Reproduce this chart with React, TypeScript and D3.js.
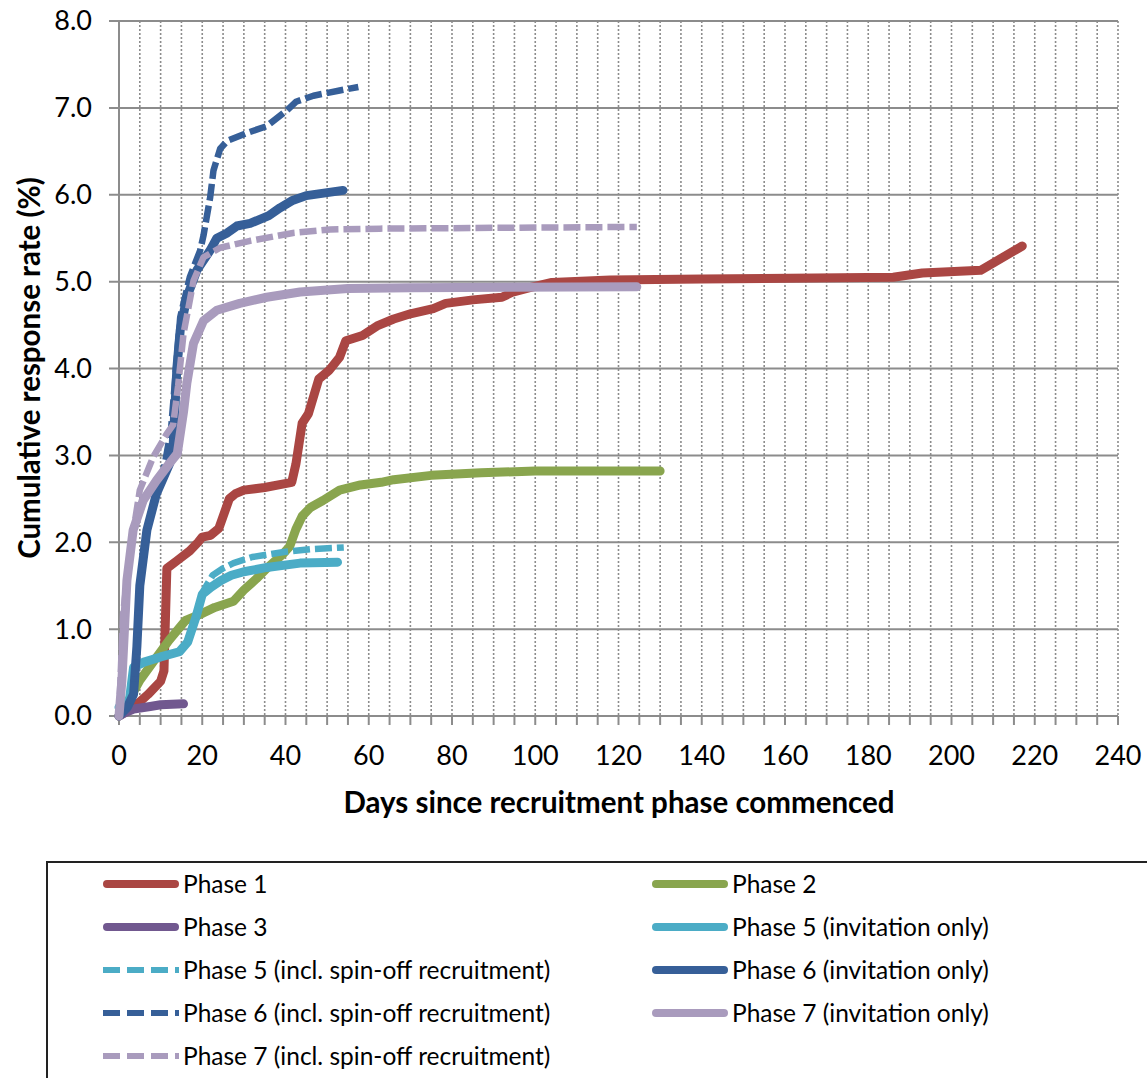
import React from "react";
import * as d3 from "d3";

type Pt = [number, number];

const xTicks = d3.range(0, 241, 20);
const xGrid = d3.range(5, 241, 5);
const yTicks = d3.range(0, 8.01, 1);

const phase1: Pt[] = [[0,0],[1,0.03],[4,0.12],[7,0.25],[10,0.4],[10.8,0.52],[11.5,1.70],[14,1.79],[17,1.90],[19,2.0],[20,2.06],[22,2.08],[24,2.16],[26.5,2.5],[28,2.56],[30,2.60],[35,2.63],[41.5,2.69],[42.5,2.9],[44,3.37],[45.5,3.48],[48,3.88],[50.5,3.98],[53,4.13],[54.5,4.32],[58.5,4.38],[62,4.49],[66,4.57],[70,4.63],[75.5,4.69],[78.5,4.75],[85,4.79],[92,4.82],[94.6,4.88],[98.7,4.93],[104,4.99],[118,5.02],[140,5.03],[186,5.05],[193,5.10],[207,5.13],[217,5.41]];
const phase2: Pt[] = [[0,0],[2,0.15],[5,0.41],[8,0.61],[12,0.87],[16,1.10],[19.5,1.17],[23,1.25],[27.5,1.32],[30,1.45],[33,1.58],[35.5,1.70],[39.5,1.87],[41,1.95],[42.5,2.15],[44,2.30],[46,2.40],[49,2.48],[53,2.60],[58,2.66],[63,2.69],[66,2.72],[75,2.77],[87,2.80],[100,2.82],[130,2.82]];
const phase3: Pt[] = [[0,0],[1.5,0.04],[3.5,0.08],[7.5,0.11],[10,0.13],[15.5,0.14]];
const phase5Inv: Pt[] = [[0,0.1],[2.5,0.18],[3.5,0.56],[6,0.62],[10,0.68],[14.5,0.74],[16.5,0.85],[18.5,1.14],[20,1.40],[22,1.48],[24.5,1.56],[27,1.62],[30,1.66],[35.5,1.71],[43.5,1.76],[52.5,1.77]];
const phase5Incl: Pt[] = [[0,0.1],[2.5,0.18],[3.5,0.56],[6,0.62],[10,0.68],[14.5,0.74],[16.5,0.85],[18.5,1.16],[20,1.42],[22.5,1.62],[25,1.70],[27.5,1.76],[32,1.83],[36,1.86],[40,1.89],[46,1.92],[54,1.94]];
const phase6Inv: Pt[] = [[0,0],[2,0.1],[3.5,0.25],[4.3,0.8],[5,1.5],[6.7,2.14],[9,2.56],[12.2,2.91],[13,3.1],[13.9,4.0],[14.7,4.44],[16.3,4.82],[18.7,5.13],[21.9,5.36],[23.5,5.5],[26,5.56],[28.3,5.64],[31.5,5.67],[34,5.72],[36,5.76],[38.7,5.85],[41.5,5.93],[45,5.99],[53.8,6.05]];
const phase6Incl: Pt[] = [[0,0],[2,0.1],[3.5,0.25],[4.3,0.8],[5,1.5],[6.7,2.14],[9,2.56],[11,2.9],[12.5,3.3],[14.7,4.59],[17,5.05],[19.5,5.36],[20.3,5.53],[21.9,5.97],[22.7,6.28],[24.3,6.53],[26,6.62],[30.7,6.71],[35.5,6.79],[40.3,6.97],[42.5,7.07],[46.7,7.14],[53,7.20],[57.5,7.24]];
const phase7Inv: Pt[] = [[0,0],[0.7,0.41],[1.9,1.56],[3.4,2.14],[5.8,2.48],[9,2.71],[12,2.9],[14,3.02],[15.5,3.5],[16.3,3.83],[17.9,4.29],[20.3,4.55],[23.5,4.67],[29,4.75],[35.5,4.82],[43.5,4.88],[55,4.92],[70,4.93],[124.4,4.94]];
const phase7Incl: Pt[] = [[0,0],[0.5,0.6],[1,1.18],[2.6,1.87],[5,2.6],[8.2,2.98],[11.5,3.25],[13,3.35],[14.2,3.8],[15.5,4.4],[17.9,5.01],[20.3,5.28],[24.3,5.39],[31.5,5.47],[41.8,5.56],[50.7,5.60],[62.7,5.61],[124.4,5.63]];

const seriesNames = [
  "Phase 1",
  "Phase 2",
  "Phase 3",
  "Phase 5 (invitation only)",
  "Phase 5 (incl. spin-off recruitment)",
  "Phase 6 (invitation only)",
  "Phase 6 (incl. spin-off recruitment)",
  "Phase 7 (invitation only)",
  "Phase 7 (incl. spin-off recruitment)",
];
const seriesData = [phase1, phase2, phase3, phase5Inv, phase5Incl, phase6Inv, phase6Incl, phase7Inv, phase7Incl];
const seriesColors = ["#AA4643", "#89A54E", "#71588F", "#4BACC6", "#4BACC6", "#365F98", "#365F98", "#A99BBD", "#A99BBD"];
const seriesDashed = [false, false, false, false, true, false, true, false, true];

export default function App() {
  const W = 1147, H = 1078;
  const x = d3.scaleLinear().domain([0, 240]).range([119, 1118]);
  const y = d3.scaleLinear().domain([0, 8]).range([716, 21]);
  const line = d3.line<Pt>().x(d => x(d[0])).y(d => y(d[1]));
  const font = "Lato, 'Open Sans', sans-serif";
  const grid = "#8c8c8c";

  const legendRows = seriesNames.map((n, i) => ({ n, i, col: i % 2, row: Math.floor(i / 2) }));

  return (
    <svg width={W} height={H} style={{ position: "absolute", left: 0, top: 0, display: "block", background: "#fff" }} fontFamily={font}>
      <rect x={0} y={0} width={W} height={H} fill="#fff" />
      {xGrid.map(t => (
        <line key={"vg" + t} x1={x(t)} x2={x(t)} y1={y(8)} y2={y(0)} stroke={grid} strokeWidth={1.6} strokeDasharray="2 2" />
      ))}
      {yTicks.map(t => (
        <line key={"hg" + t} x1={109} x2={x(240)} y1={y(t)} y2={y(t)} stroke={grid} strokeWidth={2} />
      ))}
      <line x1={x(0)} x2={x(0)} y1={y(8)} y2={y(0) + 9} stroke={grid} strokeWidth={2} />
      {xGrid.map(t => (
        <line key={"xt" + t} x1={x(t)} x2={x(t)} y1={y(0)} y2={y(0) + 9} stroke={grid} strokeWidth={2} />
      ))}
      {yTicks.map(t => (
        <text key={"yl" + t} x={92} y={y(t)} dy="0.35em" textAnchor="end" fontSize={27} fill="#000">{t.toFixed(1)}</text>
      ))}
      {xTicks.map(t => (
        <text key={"xl" + t} x={x(t)} y={765} textAnchor="middle" fontSize={27} fill="#000">{t}</text>
      ))}
      <text x={619} y={813} textAnchor="middle" fontSize={29.5} fontWeight="bold" fill="#000">Days since recruitment phase commenced</text>
      <text transform={`translate(40,368) rotate(-90)`} textAnchor="middle" fontSize={29.5} fontWeight="bold" fill="#000">Cumulative response rate (%)</text>
      {seriesData.map((d, i) => (
        <path key={"s" + i} d={line(d) || ""} fill="none" stroke={seriesColors[i]}
          strokeWidth={seriesDashed[i] ? 6.5 : 9}
          strokeLinecap={seriesDashed[i] ? "butt" : "round"} strokeLinejoin="round"
          strokeDasharray={seriesDashed[i] ? "17 5" : undefined} />
      ))}
      <rect x={47} y={862} width={1120} height={240} fill="none" stroke="#222" strokeWidth={2} />
      {legendRows.map(r => {
        const lx = r.col === 0 ? 103 : 652;
        const ly = 884 + r.row * 43;
        return (
          <g key={"lg" + r.i}>
            <line x1={lx + (seriesDashed[r.i] ? 0 : 4)} x2={lx + 76 - (seriesDashed[r.i] ? 0 : 4)} y1={ly} y2={ly}
              stroke={seriesColors[r.i]} strokeWidth={seriesDashed[r.i] ? 6 : 8}
              strokeLinecap={seriesDashed[r.i] ? "butt" : "round"}
              strokeDasharray={seriesDashed[r.i] ? "17 7" : undefined} />
            <text x={lx + 80} y={ly} dy="0.35em" fontSize={24.5} fill="#000">{r.n}</text>
          </g>
        );
      })}
    </svg>
  );
}
